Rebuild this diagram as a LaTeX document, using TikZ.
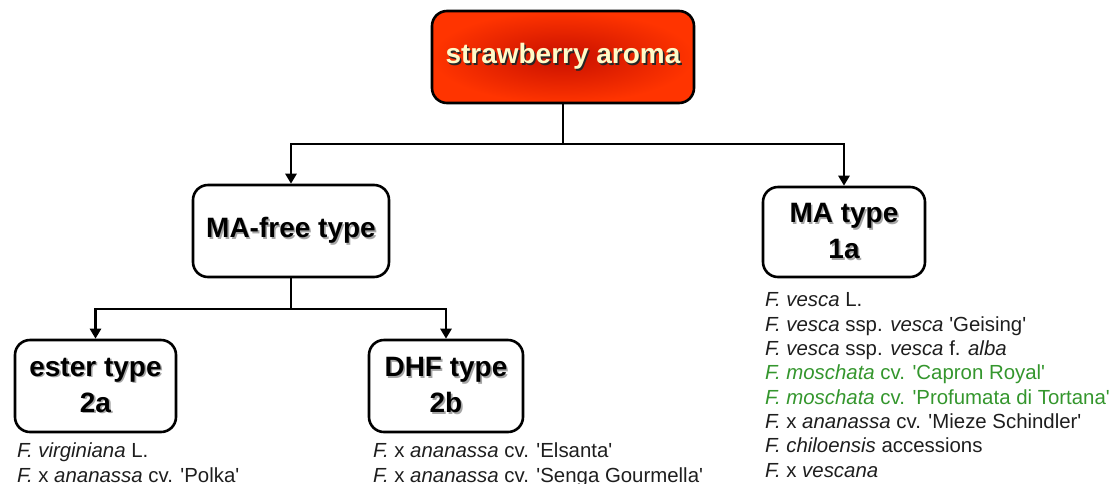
\documentclass[tikz,border=0pt]{standalone}
\usepackage{fontspec}
\setmainfont{Liberation Sans}
\usetikzlibrary{arrows.meta}
\definecolor{redin}{RGB}{200,16,0}
\definecolor{redout}{RGB}{255,52,0}
\definecolor{cream}{RGB}{255,250,200}
\definecolor{listgreen}{RGB}{52,150,45}
\definecolor{listtext}{RGB}{30,30,30}
% text with a soft drop shadow behind it
\newcommand{\shtext}[3]{\leavevmode\rlap{\kern1.6pt\raisebox{-1.6pt}{\color{#2}#3}}{\color{#1}#3}}
\newcommand{\gen}[1]{\textit{#1}}
\newcommand{\q}{\textquotesingle}
\tikzset{
  typebox/.style={draw=black, line width=2.6pt, rounded corners=15pt, fill=white,
    inner sep=0pt, align=center, font=\fontsize{28}{36}\selectfont\bfseries},
  rootbox/.style={typebox, shading=radial, inner color=redin, outer color=redout},
  link/.style={line width=2.6pt, line join=miter},
  arr/.style={link, -{Triangle[length=10pt,width=11pt]}},
  list/.style={anchor=base west, inner sep=0pt, align=left, text=listtext,
    font=\fontsize{20.4}{24.3}\selectfont}
}
\begin{document}
\begin{tikzpicture}[x=1pt,y=-1pt]
\useasboundingbox (0,0) rectangle (1114,483);

\node[rootbox, minimum width=262pt, minimum height=92pt] (root) at (563,57)
  {\shtext{cream}{black!85}{strawberry aroma}};
\node[typebox, minimum width=196pt, minimum height=92pt] (free) at (291,231)
  {\shtext{black}{black!35}{MA-free type}};
\node[typebox, minimum width=162pt, minimum height=90pt] (ma) at (844,232)
  {\shtext{black}{black!35}{MA type}\\\shtext{black}{black!35}{1a}};
\node[typebox, minimum width=161pt, minimum height=92pt] (ester) at (95.5,386)
  {\shtext{black}{black!35}{ester type}\\\shtext{black}{black!35}{2a}};
\node[typebox, minimum width=154pt, minimum height=92pt] (dhf) at (446,386)
  {\shtext{black}{black!35}{DHF type}\\\shtext{black}{black!35}{2b}};

% branching connectors
\coordinate (j1) at (563,144);
\coordinate (j2) at (291,309);
\draw[link] (root.south) -- (j1);
\draw[arr] (j1) -| (free.north);
\draw[arr] (j1) -| (ma.north);
\draw[link] (free.south) -- (j2);
\draw[arr] (j2) -| (ester.north);
\draw[arr] (j2) -| (dhf.north);

% accession lists (anchored at the baseline of their last line)
\node[list] (malist) at (765,477) {%
  \gen{F. vesca} L.\\
  \gen{F. vesca} ssp. \gen{vesca} \q Geising\q\\
  \gen{F. vesca} ssp. \gen{vesca} f. \gen{alba}\\
  \textcolor{listgreen}{\gen{F. moschata} cv. \q Capron Royal\q}\\
  \textcolor{listgreen}{\gen{F. moschata} cv. \q Profumata di Tortana\q}\\
  \gen{F.} x \gen{ananassa} cv. \q Mieze Schindler\q\\
  \gen{F. chiloensis} accessions\\
  \gen{F.} x \gen{vescana}};
\node[list] (esterlist) at (17,482) {%
  \gen{F. virginiana} L.\\
  \gen{F.} x \gen{ananassa} cv. \q Polka\q};
\node[list] (dhflist) at (373,482) {%
  \gen{F.} x \gen{ananassa} cv. \q Elsanta\q\\
  \gen{F.} x \gen{ananassa} cv. \q Senga Gourmella\q};
\end{tikzpicture}
\end{document}
